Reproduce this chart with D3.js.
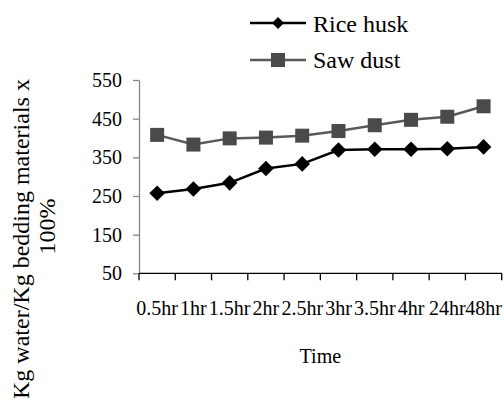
<!DOCTYPE html>
<html>
<head>
<meta charset="utf-8">
<script src="https://cdn.jsdelivr.net/npm/d3@7"></script>
<style>
  html, body { margin: 0; padding: 0; background: #fff; }
</style>
</head>
<body>
<div id="chart"></div>
<script>
const categories = ["0.5hr", "1hr", "1.5hr", "2hr", "2.5hr", "3hr", "3.5hr", "4hr", "24hr", "48hr"];
const riceHusk = [257, 268, 284, 321, 333, 369, 371, 371, 372, 377];
const sawDust = [408, 383, 399, 401, 406, 418, 433, 447, 455, 482];
const yTicks = [50, 150, 250, 350, 450, 550];
const seriesNames = ["Rice husk", "Saw dust"];

const serif = "'Liberation Serif', 'Times New Roman', Times, serif";
const width = 504, height = 401;
const plotLeft = 139, plotRight = 501.7, plotTop = 80, plotBottom = 273.3;

const svg = d3.select("#chart")
  .append("svg")
    .attr("width", width)
    .attr("height", height)
    .style("font-family", serif);

const x = d3.scaleBand()
  .domain(categories)
  .range([plotLeft, plotRight])
  .padding(0);

const y = d3.scaleLinear()
  .domain([50, 550])
  .range([plotBottom, plotTop]);

// y axis (grey)
const yAxis = svg.append("g")
  .attr("transform", `translate(${plotLeft},0)`)
  .call(d3.axisLeft(y).tickValues(yTicks).tickSize(6).tickPadding(11).tickSizeOuter(0));
yAxis.attr("font-family", null).attr("font-size", null);
yAxis.select(".domain").attr("stroke", "#868686").attr("stroke-width", 1.3);
yAxis.selectAll(".tick line").attr("stroke", "#868686").attr("stroke-width", 1.3);
yAxis.selectAll("text")
  .style("font-family", serif)
  .style("font-size", "20px")
  .attr("fill", "#000");

// x axis: ticks on band edges
const xAxis = svg.append("g")
  .attr("transform", `translate(0,${plotBottom})`);
xAxis.append("line")
  .attr("x1", plotLeft).attr("x2", plotRight)
  .attr("stroke", "#000").attr("stroke-width", 1.3);
const edges = categories.map(c => x(c)).concat([x(categories[categories.length - 1]) + x.bandwidth()]);
xAxis.selectAll("line.tk")
  .data(edges)
  .enter()
  .append("line")
  .attr("class", "tk")
  .attr("x1", d => d).attr("x2", d => d)
  .attr("y1", 0).attr("y2", 7)
  .attr("stroke", "#000").attr("stroke-width", 1.3);
xAxis.selectAll("text")
  .data(categories)
  .enter()
  .append("text")
  .attr("x", d => x(d) + x.bandwidth() / 2)
  .attr("y", 42)
  .attr("text-anchor", "middle")
  .style("font-family", serif)
  .style("font-size", "20px")
  .text(d => d);

const cx = d => x(d) + x.bandwidth() / 2;

const seriesLine = d3.line()
  .x((d, i) => cx(categories[i]))
  .y(d => y(d));

// Saw dust series
svg.append("path")
  .datum(sawDust)
  .attr("d", seriesLine)
  .attr("fill", "none")
  .attr("stroke", "#595959")
  .attr("stroke-width", 2.5);
svg.selectAll("rect.saw")
  .data(sawDust)
  .enter()
  .append("rect")
  .attr("class", "saw")
  .attr("x", (d, i) => cx(categories[i]) - 7)
  .attr("y", d => y(d) - 7)
  .attr("width", 14)
  .attr("height", 14)
  .attr("fill", "#4a4a4a");

// Rice husk series
svg.append("path")
  .datum(riceHusk)
  .attr("d", seriesLine)
  .attr("fill", "none")
  .attr("stroke", "#000")
  .attr("stroke-width", 2.5);
const diamond = (cxv, cyv, r) =>
  `M${cxv},${cyv - r}L${cxv + r},${cyv}L${cxv},${cyv + r}L${cxv - r},${cyv}Z`;
svg.selectAll("path.rice")
  .data(riceHusk)
  .enter()
  .append("path")
  .attr("class", "rice")
  .attr("d", (d, i) => diamond(cx(categories[i]), y(d), 7.8))
  .attr("fill", "#000");

// legend
const legend = svg.append("g");
legend.append("line")
  .attr("x1", 250).attr("x2", 306).attr("y1", 23).attr("y2", 23)
  .attr("stroke", "#000").attr("stroke-width", 2.5);
legend.append("path")
  .attr("d", diamond(278, 23, 6))
  .attr("fill", "#000");
legend.append("text")
  .attr("x", 313).attr("y", 31.5)
  .style("font-family", serif)
  .style("font-size", "24px")
  .text(seriesNames[0]);
legend.append("line")
  .attr("x1", 250).attr("x2", 306).attr("y1", 60).attr("y2", 60)
  .attr("stroke", "#595959").attr("stroke-width", 2.5);
legend.append("rect")
  .attr("x", 271).attr("y", 53).attr("width", 14).attr("height", 14)
  .attr("fill", "#4a4a4a");
legend.append("text")
  .attr("x", 313).attr("y", 68)
  .style("font-family", serif)
  .style("font-size", "24px")
  .text(seriesNames[1]);

// axis titles
svg.append("text")
  .attr("x", (plotLeft + plotRight) / 2)
  .attr("y", 363)
  .attr("text-anchor", "middle")
  .style("font-family", serif)
  .style("font-size", "20px")
  .text("Time");

svg.append("text")
  .attr("transform", "translate(29,399) rotate(-90)")
  .attr("text-anchor", "start")
  .style("font-family", serif)
  .style("font-size", "24px")
  .text("Kg water/Kg bedding materials x");
svg.append("text")
  .attr("transform", "translate(55,226.5) rotate(-90)")
  .attr("text-anchor", "middle")
  .style("font-family", serif)
  .style("font-size", "24px")
  .text("100%");
</script>
</body>
</html>
